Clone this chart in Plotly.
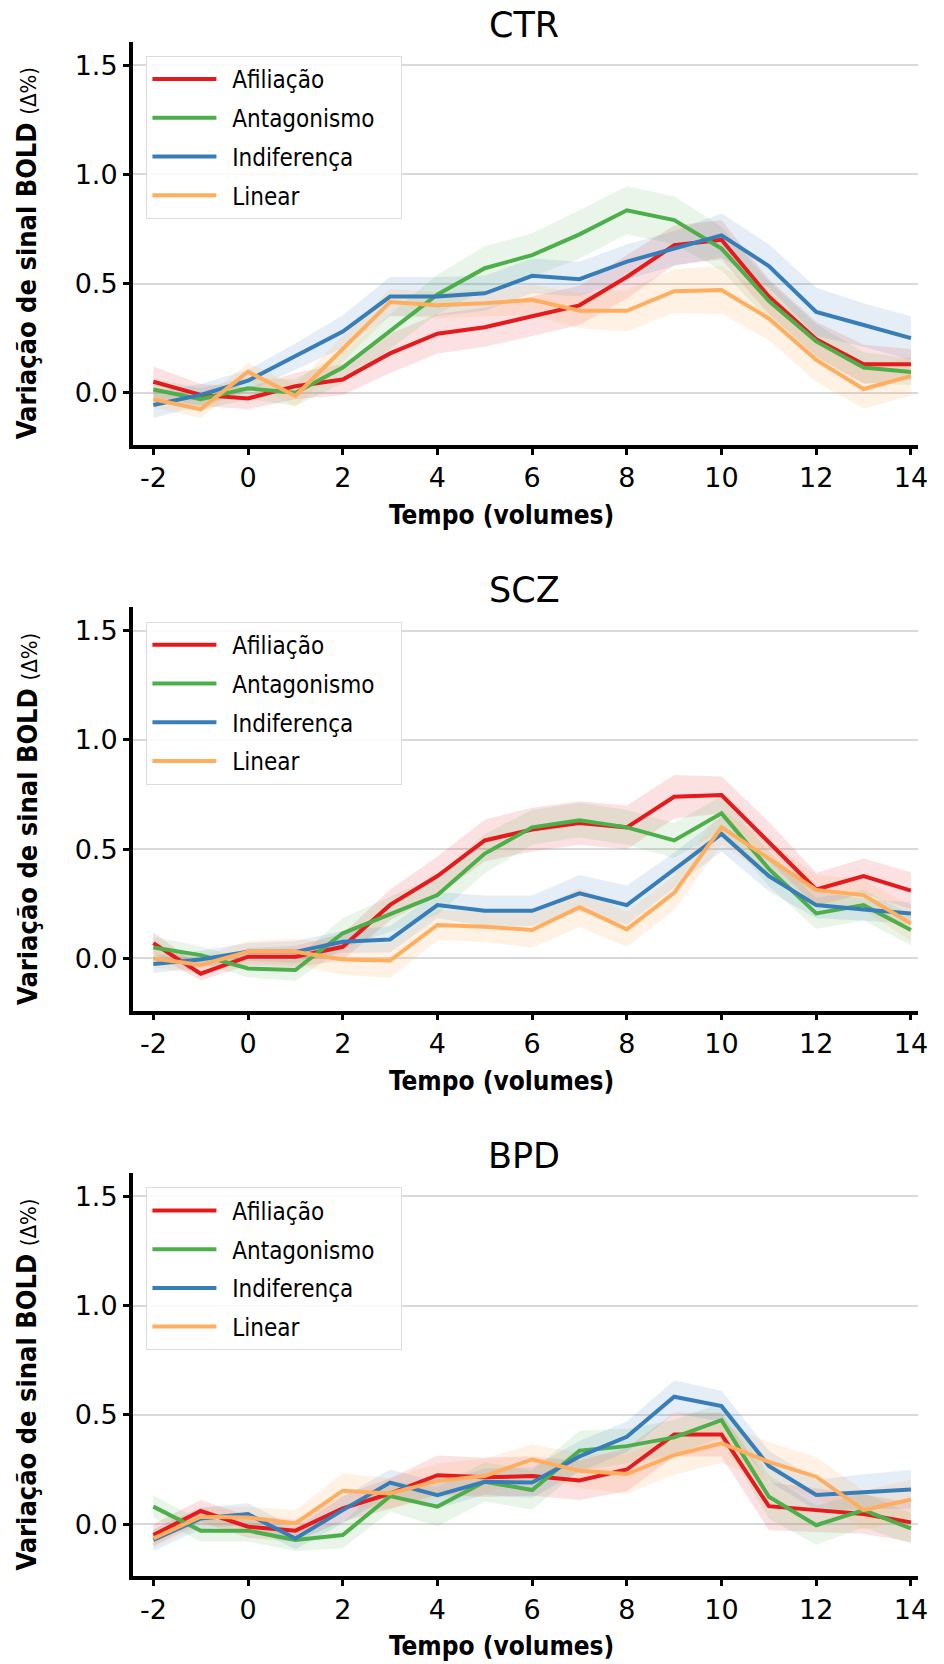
import plotly.graph_objects as go

W, H = 944, 1664

# ---------------- data ----------------
tempo = [-2, -1, 0, 1, 2, 3, 4, 5, 6, 7, 8, 9, 10, 11, 12, 13, 14]
grupos = ["CTR", "SCZ", "BPD"]
condicoes = ["Afiliação", "Antagonismo", "Indiferença", "Linear"]
cores = ["#e41a1c", "#4daf4a", "#377eb8", "#ffad5e"]
cores_banda = ["rgba(228,26,28,0.13)", "rgba(77,175,74,0.13)",
               "rgba(55,126,184,0.13)", "rgba(255,173,94,0.16)"]

# CTR
ctr_afiliacao = [0.05, -0.01, -0.026, 0.03, 0.06, 0.18, 0.27, 0.30, 0.35, 0.40, 0.53, 0.675, 0.70, 0.44, 0.245, 0.13, 0.13]
ctr_antagonismo = [0.015, -0.03, 0.02, 0.0, 0.115, 0.28, 0.45, 0.57, 0.63, 0.725, 0.835, 0.79, 0.66, 0.42, 0.235, 0.115, 0.095]
ctr_indiferenca = [-0.056, -0.01, 0.055, 0.165, 0.28, 0.44, 0.44, 0.455, 0.535, 0.52, 0.60, 0.66, 0.72, 0.58, 0.37, 0.31, 0.25]
ctr_linear = [-0.03, -0.076, 0.096, -0.015, 0.20, 0.415, 0.40, 0.41, 0.425, 0.375, 0.375, 0.465, 0.47, 0.34, 0.15, 0.017, 0.076]

ctr_afiliacao_ep = [0.07, 0.05, 0.05, 0.06, 0.07, 0.09, 0.09, 0.09, 0.09, 0.09, 0.10, 0.09, 0.09, 0.08, 0.08, 0.09, 0.07]
ctr_antagonismo_ep = [0.05, 0.05, 0.05, 0.06, 0.07, 0.08, 0.09, 0.10, 0.10, 0.11, 0.11, 0.11, 0.10, 0.09, 0.08, 0.07, 0.06]
ctr_indiferenca_ep = [0.06, 0.05, 0.05, 0.06, 0.075, 0.09, 0.09, 0.08, 0.08, 0.08, 0.08, 0.08, 0.10, 0.10, 0.11, 0.10, 0.10]
ctr_linear_ep = [0.04, 0.04, 0.04, 0.05, 0.06, 0.06, 0.06, 0.06, 0.07, 0.08, 0.095, 0.10, 0.11, 0.10, 0.10, 0.09, 0.09]

# SCZ
scz_afiliacao = [0.07, -0.07, 0.008, 0.008, 0.053, 0.245, 0.377, 0.54, 0.59, 0.62, 0.60, 0.74, 0.748, 0.535, 0.316, 0.377, 0.31]
scz_antagonismo = [0.05, 0.015, -0.046, -0.053, 0.115, 0.203, 0.29, 0.48, 0.60, 0.633, 0.60, 0.54, 0.664, 0.41, 0.206, 0.244, 0.13]
scz_indiferenca = [-0.026, -0.005, 0.03, 0.03, 0.076, 0.087, 0.244, 0.218, 0.218, 0.298, 0.244, 0.405, 0.57, 0.377, 0.244, 0.224, 0.206]
scz_linear = [0.0, -0.03, 0.03, 0.03, -0.005, -0.01, 0.153, 0.145, 0.13, 0.234, 0.133, 0.30, 0.60, 0.458, 0.313, 0.29, 0.16]

scz_afiliacao_ep = [0.05, 0.03, 0.04, 0.05, 0.06, 0.07, 0.09, 0.095, 0.10, 0.10, 0.10, 0.10, 0.085, 0.09, 0.076, 0.08, 0.085]
scz_antagonismo_ep = [0.05, 0.04, 0.04, 0.05, 0.07, 0.08, 0.09, 0.09, 0.08, 0.08, 0.08, 0.08, 0.08, 0.08, 0.07, 0.07, 0.07]
scz_indiferenca_ep = [0.04, 0.04, 0.04, 0.05, 0.05, 0.06, 0.06, 0.07, 0.07, 0.084, 0.09, 0.08, 0.08, 0.07, 0.06, 0.05, 0.05]
scz_linear_ep = [0.04, 0.04, 0.05, 0.06, 0.07, 0.08, 0.07, 0.07, 0.08, 0.09, 0.08, 0.08, 0.08, 0.08, 0.07, 0.07, 0.08]

# BPD
bpd_afiliacao = [-0.05, 0.06, -0.012, -0.03, 0.072, 0.14, 0.224, 0.214, 0.22, 0.20, 0.25, 0.41, 0.41, 0.082, 0.064, 0.046, 0.008]
bpd_antagonismo = [0.08, -0.03, -0.03, -0.073, -0.05, 0.128, 0.08, 0.194, 0.156, 0.336, 0.357, 0.397, 0.476, 0.125, -0.005, 0.064, -0.02]
bpd_indiferenca = [-0.073, 0.026, 0.046, -0.066, 0.064, 0.19, 0.133, 0.194, 0.19, 0.31, 0.40, 0.583, 0.54, 0.266, 0.133, 0.148, 0.159]
bpd_linear = [-0.066, 0.034, 0.03, 0.003, 0.153, 0.14, 0.198, 0.22, 0.296, 0.244, 0.229, 0.316, 0.37, 0.285, 0.217, 0.064, 0.113]

bpd_afiliacao_ep = [0.05, 0.05, 0.05, 0.05, 0.06, 0.07, 0.09, 0.09, 0.09, 0.09, 0.10, 0.10, 0.10, 0.11, 0.10, 0.09, 0.09]
bpd_antagonismo_ep = [0.05, 0.05, 0.05, 0.05, 0.06, 0.07, 0.09, 0.09, 0.09, 0.09, 0.08, 0.08, 0.08, 0.10, 0.09, 0.08, 0.07]
bpd_indiferenca_ep = [0.05, 0.05, 0.05, 0.05, 0.06, 0.06, 0.06, 0.06, 0.07, 0.07, 0.07, 0.076, 0.07, 0.07, 0.07, 0.08, 0.089]
bpd_linear_ep = [0.04, 0.04, 0.05, 0.06, 0.08, 0.07, 0.08, 0.08, 0.07, 0.08, 0.09, 0.09, 0.09, 0.09, 0.09, 0.09, 0.09]

x_ticks = [-2, 0, 2, 4, 6, 8, 10, 12, 14]
x_ticklabels = ["-2", "0", "2", "4", "6", "8", "10", "12", "14"]
y_ticks = [0.0, 0.5, 1.0, 1.5]
y_ticklabels = ["0.0", "0.5", "1.0", "1.5"]

medias = {
    "CTR": [ctr_afiliacao, ctr_antagonismo, ctr_indiferenca, ctr_linear],
    "SCZ": [scz_afiliacao, scz_antagonismo, scz_indiferenca, scz_linear],
    "BPD": [bpd_afiliacao, bpd_antagonismo, bpd_indiferenca, bpd_linear],
}
erros = {
    "CTR": [ctr_afiliacao_ep, ctr_antagonismo_ep, ctr_indiferenca_ep, ctr_linear_ep],
    "SCZ": [scz_afiliacao_ep, scz_antagonismo_ep, scz_indiferenca_ep, scz_linear_ep],
    "BPD": [bpd_afiliacao_ep, bpd_antagonismo_ep, bpd_indiferenca_ep, bpd_linear_ep],
}

# ---------------- layout geometry (pixels) ----------------
PANEL_STEP = 565.7
AX_LEFT, AX_RIGHT = 134.2, 928
AX_TOP0, AX_BOTTOM0 = 41.7, 445

def py(p):
    return 1 - p / H

def pxx(p):
    return p / W

NARROW = "DejaVu Sans Condensed, DejaVu Sans, sans-serif"
DEJAVU = "DejaVu Sans, sans-serif"
SP = "\u2002"

fig = go.Figure()
layout = dict(
    width=W, height=H,
    margin=dict(l=0, r=0, t=0, b=0),
    paper_bgcolor="white", plot_bgcolor="white",
    showlegend=True,
    annotations=[],
)

for i, g in enumerate(grupos):
    sfx = "" if i == 0 else str(i + 1)
    xa, ya = "x" + sfx, "y" + sfx
    leg = "legend" + sfx
    off = PANEL_STEP * i
    # bands
    for k in range(4):
        m = medias[g][k]
        e = erros[g][k]
        up = [a + b for a, b in zip(m, e)]
        lo = [a - b for a, b in zip(m, e)]
        fig.add_trace(go.Scatter(
            x=tempo + tempo[::-1], y=up + lo[::-1],
            fill="toself", fillcolor=cores_banda[k],
            line=dict(width=0), mode="lines", hoverinfo="skip",
            showlegend=False, xaxis=xa, yaxis=ya))
    # lines
    for k in range(4):
        fig.add_trace(go.Scatter(
            x=tempo, y=medias[g][k], mode="lines",
            name=SP + condicoes[k] + SP + SP,
            line=dict(color=cores[k], width=4),
            xaxis=xa, yaxis=ya, legend=leg, showlegend=True,
            legendgroup=f"{g}-{k}"))

    top, bottom = AX_TOP0 + off, AX_BOTTOM0 + off
    layout["xaxis" + sfx] = dict(
        domain=[pxx(AX_LEFT), pxx(AX_RIGHT)], range=[-2.4346, 14.153],
        anchor=ya, showgrid=False, zeroline=False,
        showline=True, linecolor="black", linewidth=3.5,
        ticks="outside", ticklen=6, tickwidth=2.5, tickcolor="black",
        tickvals=x_ticks, ticktext=x_ticklabels,
        tickfont=dict(family=DEJAVU, size=27, color="black"),
    )
    layout["yaxis" + sfx] = dict(
        domain=[py(bottom), py(top)], range=[-0.2394, 1.607],
        anchor=xa, showgrid=True, gridcolor="#d9d9d9", gridwidth=2,
        zeroline=False,
        showline=True, linecolor="black", linewidth=3.5,
        ticks="outside", ticklen=6, tickwidth=2.5, tickcolor="black",
        tickvals=y_ticks, ticktext=y_ticklabels,
        tickfont=dict(family=DEJAVU, size=27, color="black"),
    )
    layout[leg] = dict(
        x=pxx(148), y=py(56 + off), xanchor="left", yanchor="top",
        bgcolor="rgba(255,255,255,0.85)", bordercolor="#dcdcdc", borderwidth=1,
        font=dict(family=NARROW, size=24, color="black"),
        itemwidth=64, tracegroupgap=4.5, traceorder="grouped",
    )
    layout["annotations"] += [
        dict(text=g, x=pxx(530), y=py(24.5 + off), xref="paper", yref="paper",
             xanchor="center", yanchor="middle", showarrow=False,
             font=dict(family=DEJAVU, size=35, color="black")),
        dict(text="<b>Tempo (volumes)</b>", x=pxx(507), y=py(515 + off),
             xref="paper", yref="paper", xanchor="center", yanchor="middle",
             showarrow=False, font=dict(family=NARROW, size=26, color="black")),
        dict(text="<b>Variação de sinal BOLD</b> <span style=\"font-size:22px\">(Δ%)</span>",
             x=pxx(27), y=py(253.5 + off), xref="paper", yref="paper",
             xanchor="center", yanchor="middle", textangle=-90,
             showarrow=False, font=dict(family=NARROW, size=27, color="black")),
    ]

fig.update_layout(**layout)
fig.write_html("out.html", config={"displayModeBar": False},
               post_script="document.body.style.margin='0px';")
